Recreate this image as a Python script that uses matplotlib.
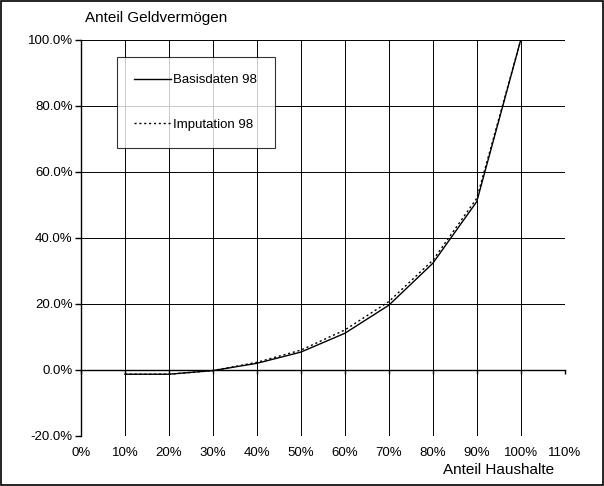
import numpy as np
import matplotlib.pyplot as plt
from matplotlib.patches import Rectangle
from matplotlib.ticker import FuncFormatter

plt.rcParams['font.family'] = ['Liberation Sans', 'DejaVu Sans']

anteil_haushalte = [0.1, 0.2, 0.3, 0.4, 0.5, 0.6, 0.7, 0.8, 0.9, 1.0]
basisdaten_98 = [-0.013, -0.013, -0.002, 0.020, 0.054, 0.111, 0.196, 0.323, 0.510, 1.0]
imputation_98 = [-0.013, -0.013, -0.002, 0.023, 0.060, 0.121, 0.207, 0.332, 0.520, 1.0]

fig = plt.figure(figsize=(6.04, 4.86), dpi=100)
ax = fig.add_axes([0.134, 0.103, 0.801, 0.815])

ax.plot(anteil_haushalte, basisdaten_98, color='black', lw=1.0, label='Basisdaten 98')
ax.plot(anteil_haushalte, imputation_98, color='black', lw=1.0, ls=(0, (1.5, 2)), label='Imputation 98')

ax.set_xlim(0, 1.1)
ax.set_ylim(-0.2, 1.0)
ax.set_xticks(np.arange(0, 1.11, 0.1))
ax.set_yticks(np.arange(-0.2, 1.01, 0.2))
ax.xaxis.set_major_formatter(FuncFormatter(lambda v, p: '%d%%' % round(v * 100)))
ax.yaxis.set_major_formatter(FuncFormatter(lambda v, p: '%.1f%%' % (v * 100)))
ax.grid(True, color='black', lw=0.7)
ax.set_axisbelow(True)

for s in ['top', 'right', 'bottom']:
    ax.spines[s].set_visible(False)
ax.spines['left'].set_linewidth(1.0)
ax.tick_params(axis='x', length=0, labelsize=9.5, pad=8)
ax.tick_params(axis='y', length=4, width=1.0, labelsize=9.5, pad=2)

# x-axis line at 0 with tick marks
sec = ax.secondary_xaxis(1 / 6)
sec.set_xticks(np.arange(0, 1.11, 0.1))
sec.tick_params(length=3, width=1.0, labelbottom=False)
sec.spines['bottom'].set_linewidth(1.0)

leg = ax.legend(loc='upper left', bbox_to_anchor=(0.074, 0.957), fontsize=9.5,
                frameon=True, fancybox=False, handlelength=2.8, handletextpad=0.2,
                labelspacing=2.45, borderpad=1.3, borderaxespad=0)
leg.get_frame().set_edgecolor('black')
leg.get_frame().set_linewidth(0.8)

fig.text(0.141, 0.962, 'Anteil Geldvermögen', fontsize=11, ha='left', va='center')
fig.text(0.917, 0.033, 'Anteil Haushalte', fontsize=11, ha='right', va='center')

fig.add_artist(Rectangle((0.002, 0.002), 0.996, 0.996, transform=fig.transFigure,
                         fill=False, edgecolor='black', lw=1.2))

fig.savefig('out.png', dpi=100)
